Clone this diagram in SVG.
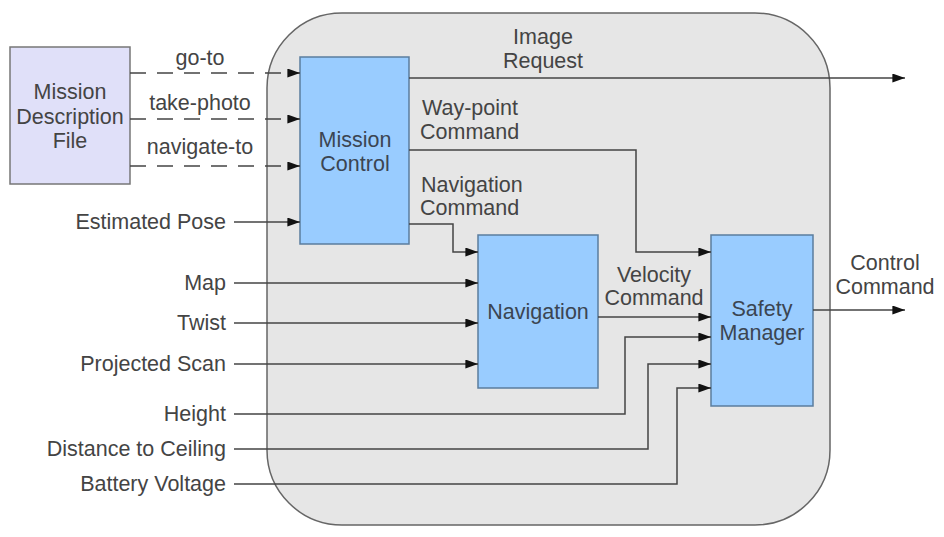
<svg xmlns="http://www.w3.org/2000/svg" width="944" height="537" viewBox="0 0 944 537">
<style>
text{font-family:"Liberation Sans",Arial,sans-serif;font-size:21.5px;fill:#444}
.bl{fill:#3b4552}
.box{fill:#99ccff;stroke:#5b7d9e;stroke-width:1.5}
.ln{fill:none;stroke:#444;stroke-width:1.5}
.dash{stroke-dasharray:16 11}
.mid{text-anchor:middle}
.end{text-anchor:end}
</style>
<defs>
<marker id="ar" viewBox="0 0 14 10" refX="14" refY="5" markerWidth="14" markerHeight="9" markerUnits="userSpaceOnUse" orient="auto">
<path d="M0,0 L14,5 L0,10 z" fill="#111"/>
</marker>
</defs>
<g id="container">
<rect x="267" y="13" width="563" height="512" rx="75" ry="75" fill="#e6e6e6" stroke="#666" stroke-width="1.5"/>
</g>
<g id="mission-file">
<rect x="10" y="47" width="120" height="137" fill="#e0e0f9" stroke="#777" stroke-width="1.5"/>
<text class="mid" x="70" y="99">Mission</text>
<text class="mid" x="70" y="124">Description</text>
<text class="mid" x="70" y="148">File</text>
</g>
<g id="mission-control">
<rect class="box" x="300" y="57" width="109" height="187"/>
<text class="mid bl" x="355" y="147">Mission</text>
<text class="mid bl" x="355" y="171">Control</text>
</g>
<g id="navigation">
<rect class="box" x="478" y="235" width="120" height="153"/>
<text class="mid bl" x="538" y="319">Navigation</text>
</g>
<g id="safety-manager">
<rect class="box" x="711" y="235" width="102" height="171"/>
<text class="mid bl" x="762" y="316">Safety</text>
<text class="mid bl" x="762" y="340">Manager</text>
</g>
<g id="connectors">
<path class="ln dash" d="M130,73 H300" marker-end="url(#ar)"/>
<path class="ln dash" d="M130,119 H300" marker-end="url(#ar)"/>
<path class="ln dash" d="M130,166 H300" marker-end="url(#ar)"/>
<path class="ln" d="M234,222 H300" marker-end="url(#ar)"/>
<path class="ln" d="M409,78 H905" marker-end="url(#ar)"/>
<path class="ln" d="M409,150 H636 V252 H711" marker-end="url(#ar)"/>
<path class="ln" d="M409,224 H453 V252 H478" marker-end="url(#ar)"/>
<path class="ln" d="M234,283 H478" marker-end="url(#ar)"/>
<path class="ln" d="M234,323 H478" marker-end="url(#ar)"/>
<path class="ln" d="M234,364 H478" marker-end="url(#ar)"/>
<path class="ln" d="M598,317 H711" marker-end="url(#ar)"/>
<path class="ln" d="M234,414 H625 V337 H711" marker-end="url(#ar)"/>
<path class="ln" d="M234,449 H648 V364 H711" marker-end="url(#ar)"/>
<path class="ln" d="M234,484 H677 V388 H711" marker-end="url(#ar)"/>
<path class="ln" d="M813,310 H905" marker-end="url(#ar)"/>
</g>
<g id="labels">
<text class="mid" x="200" y="65">go-to</text>
<text class="mid" x="200" y="110">take-photo</text>
<text class="mid" x="200" y="154">navigate-to</text>
<text class="end" x="226" y="229">Estimated Pose</text>
<text class="end" x="226" y="290">Map</text>
<text class="end" x="226" y="330">Twist</text>
<text class="end" x="226" y="371">Projected Scan</text>
<text class="end" x="226" y="421">Height</text>
<text class="end" x="226" y="456">Distance to Ceiling</text>
<text class="end" x="226" y="491">Battery Voltage</text>
<text class="mid" x="543" y="44">Image</text>
<text class="mid" x="543" y="68">Request</text>
<text x="422" y="115">Way-point</text>
<text x="420" y="139">Command</text>
<text x="421" y="192">Navigation</text>
<text x="420" y="215">Command</text>
<text class="mid" x="654" y="282">Velocity</text>
<text class="mid" x="654" y="305">Command</text>
<text class="mid" x="885" y="270">Control</text>
<text class="mid" x="885" y="294">Command</text>
</g>
</svg>
